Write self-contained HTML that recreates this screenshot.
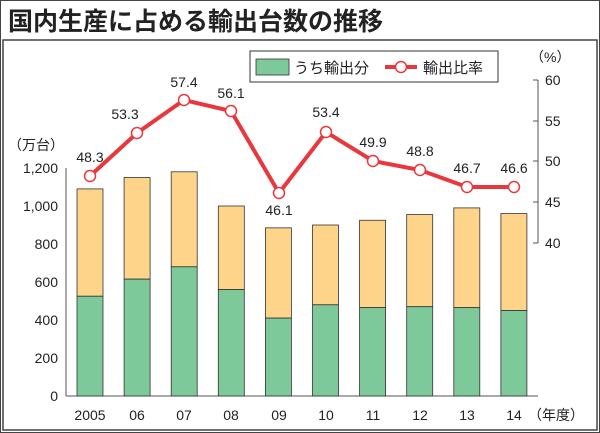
<!DOCTYPE html>
<html><head><meta charset="utf-8"><style>
body{margin:0;background:#fff}
svg{display:block;font-family:"Liberation Sans","Noto Sans CJK JP",sans-serif}
</style></head><body>
<svg width="600" height="433" viewBox="0 0 600 433">
<rect x="0.5" y="0.5" width="599" height="432" fill="#fff" stroke="#444"/>
<rect x="3" y="40" width="594" height="390" fill="#fff" stroke="#444" stroke-width="1.5"/>
<text x="8" y="30" font-size="25" font-weight="bold" fill="#222">国内生産に占める輸出台数の推移</text>
<g font-size="14" fill="#222" text-anchor="end">
<text x="58" y="401">0</text><text x="58" y="363">200</text><text x="58" y="325">400</text><text x="58" y="287">600</text><text x="58" y="249">800</text><text x="58" y="211">1,000</text><text x="58" y="173">1,200</text>
</g>
<text x="8" y="150" font-size="14" fill="#222">（万台）</text>
<g font-size="14" fill="#222">
<text x="545" y="85">60</text><text x="545" y="126">55</text><text x="545" y="166">50</text><text x="545" y="207">45</text><text x="545" y="248">40</text>
<text x="530" y="62">（%）</text>
</g>
<g stroke="#555" stroke-width="1">
<line x1="538" y1="80" x2="538" y2="243"/>
<line x1="533" y1="80" x2="538" y2="80"/><line x1="533" y1="121" x2="538" y2="121"/><line x1="533" y1="161" x2="538" y2="161"/><line x1="533" y1="202" x2="538" y2="202"/><line x1="533" y1="243" x2="538" y2="243"/>
<line x1="66" y1="168" x2="66" y2="396"/><line x1="66" y1="396" x2="538" y2="396"/>
</g>
<g id="bars" stroke="#333" stroke-width="0.8"></g>
<g font-size="14" fill="#222" text-anchor="middle">
<text x="90" y="420">2005</text><text x="137" y="420">06</text><text x="184" y="420">07</text><text x="231" y="420">08</text><text x="279" y="420">09</text><text x="326" y="420">10</text><text x="373" y="420">11</text><text x="420" y="420">12</text><text x="467" y="420">13</text><text x="514" y="420">14</text>
</g>
<text x="528" y="420" font-size="14" fill="#222">（年度）</text>
<polyline points="90,176 137,133 184,100 231,111 279,193 326,132 373,161 420,170 467,187 514,187" fill="none" stroke="#e8383d" stroke-width="4"/>
<g fill="#fff" stroke="#e8383d" stroke-width="1.5">
<circle cx="90" cy="176" r="5.5"/><circle cx="137" cy="133" r="5.5"/><circle cx="184" cy="100" r="5.5"/><circle cx="231" cy="111" r="5.5"/><circle cx="279" cy="193" r="5.5"/><circle cx="326" cy="132" r="5.5"/><circle cx="373" cy="161" r="5.5"/><circle cx="420" cy="170" r="5.5"/><circle cx="467" cy="187" r="5.5"/><circle cx="514" cy="187" r="5.5"/>
</g>
<g font-size="14" fill="#222" text-anchor="middle">
<text x="90" y="162">48.3</text><text x="125" y="119">53.3</text><text x="184" y="87">57.4</text><text x="231" y="98">56.1</text><text x="279" y="215">46.1</text><text x="326" y="117">53.4</text><text x="373" y="147">49.9</text><text x="420" y="156">48.8</text><text x="467" y="173">46.7</text><text x="514" y="173">46.6</text>
</g>
<rect x="250" y="51" width="248" height="31" fill="#fff" stroke="#333" stroke-width="1"/>
<rect x="256" y="59" width="33" height="16" fill="#7ec99a" stroke="#333" stroke-width="0.8"/>
<text x="294" y="73" font-size="15" fill="#222">うち輸出分</text>
<line x1="385" y1="67" x2="417" y2="67" stroke="#e8383d" stroke-width="4"/>
<circle cx="401" cy="67" r="5.5" fill="#fff" stroke="#e8383d" stroke-width="1.5"/>
<text x="423" y="73" font-size="15" fill="#222">輸出比率</text>
</svg>
<script>
var tot=[1090,1150,1180,1000,885,900,925,955,990,960],ex=[525,615,680,560,410,480,465,470,465,450];
var g=document.getElementById('bars'),s='';
for(var i=0;i<10;i++){var cx=90+i*47.1,x=cx-13,k=0.19;
var yt=396-tot[i]*k,ye=396-ex[i]*k;
s+='<rect x="'+x+'" y="'+yt+'" width="26" height="'+(ye-yt)+'" fill="#fdd48a"/>';
s+='<rect x="'+x+'" y="'+ye+'" width="26" height="'+(396-ye)+'" fill="#7ec99a"/>';}
g.innerHTML=s;
</script>
</body></html>
